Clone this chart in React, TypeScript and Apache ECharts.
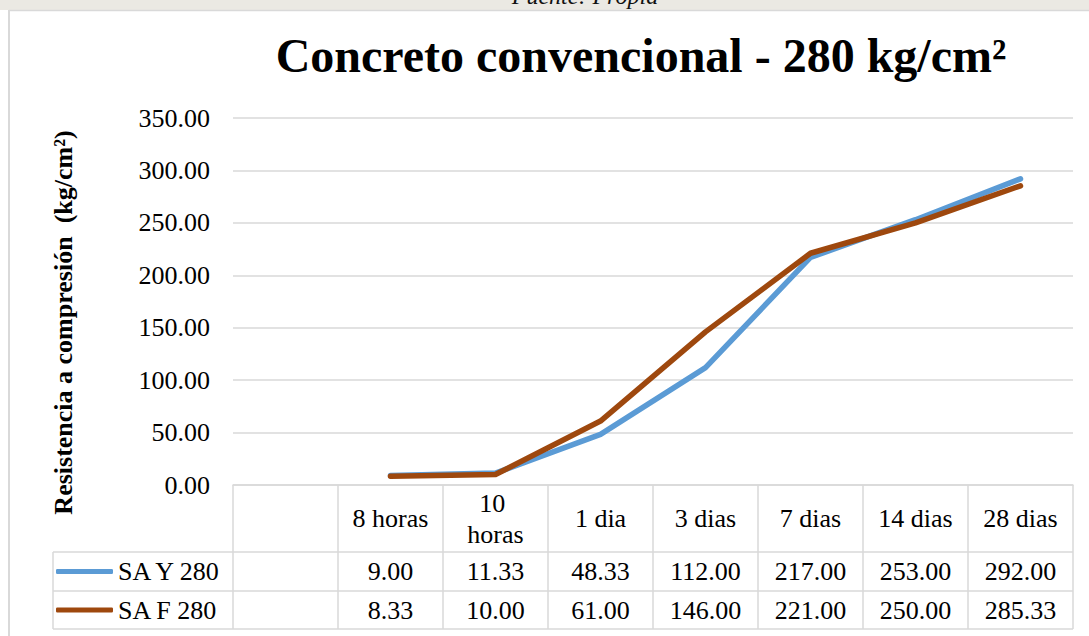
import React, { useEffect, useRef } from 'react';
import * as echarts from 'echarts';

const titleText = 'Concreto convencional - 280 kg/cm²';
const yAxisName = 'Resistencia a compresión  (kg/cm²)';
const categories = ['', '8 horas', '10 horas', '1 dia', '3 dias', '7 dias', '14 dias', '28 dias'];
const seriesNames = ['SA Y 280', 'SA F 280'];
const saY280: (number | null)[] = [null, 9.0, 11.33, 48.33, 112.0, 217.0, 253.0, 292.0];
const saF280: (number | null)[] = [null, 8.33, 10.0, 61.0, 146.0, 221.0, 250.0, 285.33];
const seriesColors = ['#5B9BD5', '#9E480E'];
const yMin = 0;
const yMax = 350;
const yStep = 50;
const sourceNote = 'Fuente: Propia';

const FONT = "'Liberation Serif', 'Times New Roman', serif";
const GRID = '#d9d9d9';

const fmt = (v: number | null) => (v == null ? '' : v.toFixed(2));

export default function App() {
  const ref = useRef<HTMLDivElement>(null);
  useEffect(() => {
    document.body.style.margin = '0';
    const chart = echarts.init(ref.current!, undefined, { renderer: 'svg' });
    const left = 233, right = 1073, top = 118, bottom = 485;
    const row1 = 552, row2 = 591, row3 = 629, legendLeft = 53;
    const allData = [saY280, saF280];
    const rowCenters = [(row1 + row2) / 2, (row2 + row3) / 2];

    chart.setOption({
      animation: false,
      backgroundColor: '#ffffff',
      title: {
        text: titleText,
        left: 636,
        top: 26,
        textAlign: 'center',
        textStyle: { fontFamily: FONT, fontSize: 48, fontWeight: 'bold', color: '#000' },
      },
      legend: seriesNames.map((name, i) => ({
        data: [name],
        left: 56,
        top: rowCenters[i] - 13,
        padding: 0,
        icon: 'roundRect',
        itemWidth: 57,
        itemHeight: 5,
        selectedMode: false,
        textStyle: { fontFamily: FONT, fontSize: 26, color: '#000', lineHeight: 26 },
      })),
      grid: { left, right: 1089 - right, top, bottom: 636 - bottom, containLabel: false },
      xAxis: [
        {
          type: 'category',
          position: 'bottom',
          data: categories,
          boundaryGap: true,
          axisLine: { show: true, lineStyle: { color: GRID, width: 1.5 } },
          axisTick: { show: true, interval: 0, length: row3 - bottom, lineStyle: { color: GRID, width: 1.5 } },
          axisLabel: {
            interval: 0,
            margin: (row1 - bottom) / 2,
            verticalAlign: 'middle',
            width: 84,
            overflow: 'break',
            lineHeight: 31,
            fontFamily: FONT,
            fontSize: 26,
            color: '#000',
          },
        },
        ...allData.map((arr, i) => ({
          type: 'category',
          position: 'bottom',
          data: arr.map(fmt),
          boundaryGap: true,
          axisLine: { show: false },
          axisTick: { show: false },
          splitLine: { show: false },
          axisLabel: {
            interval: 0,
            margin: rowCenters[i] - bottom,
            verticalAlign: 'middle',
            fontFamily: FONT,
            fontSize: 26,
            color: '#000',
          },
        })),
      ],
      yAxis: {
        type: 'value',
        min: yMin,
        max: yMax,
        interval: yStep,
        name: yAxisName,
        nameLocation: 'middle',
        nameGap: 157,
        nameTextStyle: {
          fontFamily: FONT,
          fontSize: 26,
          fontWeight: 'bold',
          color: '#000',
          padding: [0, 42, 0, 0],
        },
        axisLine: { show: false },
        axisTick: { show: false },
        splitLine: { show: true, lineStyle: { color: GRID, width: 1.5 } },
        axisLabel: {
          margin: 23,
          fontFamily: FONT,
          fontSize: 26,
          color: '#000',
          formatter: (v: number) => v.toFixed(2),
        },
      },
      series: allData.map((arr, i) => ({
        name: seriesNames[i],
        type: 'line',
        xAxisIndex: 0,
        data: arr,
        symbol: 'none',
        showSymbol: false,
        color: seriesColors[i],
        lineStyle: { width: 5.5, color: seriesColors[i], cap: 'round', join: 'round' },
        z: 2 + i,
      })),
      graphic: [
        { type: 'rect', shape: { x: 0, y: 0, width: 1089, height: 10 }, style: { fill: '#ebe9e3' }, silent: true },
        {
          type: 'text',
          x: 585,
          y: 8,
          style: {
            text: sourceNote,
            fontFamily: FONT,
            fontSize: 24,
            fontStyle: 'italic',
            fill: '#111',
            textAlign: 'center',
            textVerticalAlign: 'bottom',
          },
          silent: true,
        },
        { type: 'line', shape: { x1: 9, y1: 10.5, x2: 1089, y2: 10.5 }, style: { stroke: GRID, lineWidth: 1.5 }, silent: true },
        { type: 'line', shape: { x1: 9, y1: 10, x2: 9, y2: 636 }, style: { stroke: GRID, lineWidth: 2 }, silent: true },
        ...[row1, row2, row3].map((y) => ({
          type: 'line',
          shape: { x1: legendLeft, y1: y, x2: right, y2: y },
          style: { stroke: GRID, lineWidth: 1.5 },
          silent: true,
        })),
        { type: 'line', shape: { x1: legendLeft, y1: row1, x2: legendLeft, y2: row3 }, style: { stroke: GRID, lineWidth: 1.5 }, silent: true },
      ],
    });
    return () => chart.dispose();
  }, []);
  return <div ref={ref} style={{ width: 1089, height: 636, position: 'absolute', left: 0, top: 0 }} />;
}
